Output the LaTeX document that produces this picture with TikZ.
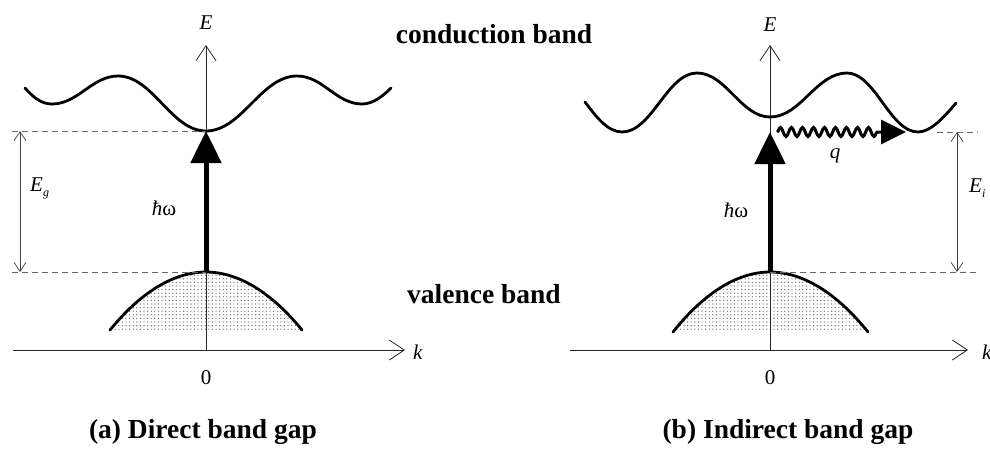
\documentclass[tikz,border=0pt]{standalone}
\usepackage{fontspec}
\setmainfont{Liberation Serif}
\usetikzlibrary{arrows.meta,patterns,decorations.pathmorphing}
\pgfdeclarepatternformonly{stipple}{\pgfqpoint{-1pt}{-1pt}}{\pgfqpoint{1pt}{1pt}}{\pgfqpoint{3.6pt}{3.6pt}}{%
  \pgfpathcircle{\pgfqpoint{0pt}{0pt}}{0.7pt}\pgfusepath{fill}}
\begin{document}
\begin{tikzpicture}[x=1pt,y=-1pt,
  band/.style={line width=2.8pt, line cap=round},
  axisline/.style={line width=0.8pt, black!85, -{Straight Barb[length=15pt,width=20pt]}},
  gapline/.style={line width=0.7pt, black!75, {Straight Barb[length=9pt,width=12pt]}-{Straight Barb[length=9pt,width=12pt]}},
  dashline/.style={line width=0.8pt, black!60, dash pattern=on 6pt off 4pt},
  photon/.style={line width=5pt, -{Triangle[length=32pt,width=30pt]}},
  phonon/.style={line width=3pt, -{Triangle[length=25pt,width=24pt]}, decorate,
     decoration={snake, amplitude=4.5pt, segment length=11pt, post length=24pt}},
  dotfill/.style={pattern=stipple, pattern color=black!55},
  lab/.style={font=\fontsize{21}{21}\selectfont\itshape, inner sep=0pt},
  num/.style={font=\fontsize{21}{21}\selectfont, inner sep=0pt},
  bold/.style={font=\fontsize{27.5}{28}\selectfont\bfseries, inner sep=0pt}
]
\useasboundingbox (0,0) rectangle (990,448);

% ---------------- panel (a) ----------------
\coordinate (aO) at (206,350);
\coordinate (aEtop) at (206,45);
\coordinate (akL) at (13,350);
\coordinate (akR) at (405,350);
\coordinate (aCmin) at (206,131);
\coordinate (aVtop) at (206,272);
\coordinate (aDT) at (12,131);
\coordinate (aDB) at (12,272);
\coordinate (aGT) at (20,131);
\coordinate (aGB) at (20,272);

% valence band
\fill[dotfill] (110,330) parabola bend (aVtop) (302,330) -- cycle;
\draw[axisline] (akL) -- (akR);
\draw[axisline] (aO) -- (aEtop);
\draw[band] (110,330) parabola bend (aVtop) (302,330);

% conduction band
\draw[band] (25,88) .. controls (33,97) and (41,104) .. (52,104)
  .. controls (78,104) and (92,76) .. (118,76)
  .. controls (153,76) and (171,131) .. (aCmin)
  .. controls (242,131) and (261,76) .. (297,76)
  .. controls (323,76) and (336,104) .. (362,104)
  .. controls (373,104) and (383,96) .. (391,88);

\draw[dashline] (aDT) -- (aCmin);
\draw[dashline] (aDB) -- (aVtop);
\draw[gapline] (aGT) -- (aGB);
\draw[photon] (aVtop) -- (aCmin);

\node[lab] (aE) at (206,23) {E};
\node[lab, anchor=west] (ak) at (413,352) {k};
\node[num] (a0) at (206,378) {0};
\node[lab] (ahw) at (164,208) {ħ\upshape ω};
\node[lab, anchor=west] (aEg) at (30,188) {E\raisebox{-5pt}{\fontsize{12}{12}\selectfont g}};
\node[bold] (acap) at (203,432) {(a) Direct band gap};

% ---------------- labels between ----------------
\node[bold] (cb) at (494,34) {conduction band};
\node[bold] (vb) at (484,294) {valence band};

% ---------------- panel (b) ----------------
\coordinate (bO) at (770,350);
\coordinate (bEtop) at (770,45);
\coordinate (bkL) at (570,350);
\coordinate (bkR) at (968,350);
\coordinate (bCmin) at (770,117);
\coordinate (bTip) at (770,132);
\coordinate (bVtop) at (770,272);
\coordinate (bXmin) at (918,132);
\coordinate (bDT1) at (937,132);
\coordinate (bDT2) at (978,132);
\coordinate (bDB) at (978,272);
\coordinate (bGT) at (957,132);
\coordinate (bGB) at (957,272);
\coordinate (bQs) at (777,132);
\coordinate (bQe) at (906,132);

\fill[dotfill] (673,332) parabola bend (bVtop) (868,332) -- cycle;
\draw[axisline] (bkL) -- (bkR);
\draw[axisline] (bO) -- (bEtop);
\draw[band] (673,332) parabola bend (bVtop) (868,332);

\draw[band] (585,102) .. controls (595,115) and (607,132) .. (622,132)
  .. controls (652,132) and (667,73) .. (697,73)
  .. controls (726,73) and (741,117) .. (bCmin)
  .. controls (801,117) and (816,73) .. (847,73)
  .. controls (875,73) and (890,132) .. (bXmin)
  .. controls (931,132) and (945,116) .. (956,103);

\draw[dashline] (bDT1) -- (bDT2);
\draw[dashline] (bVtop) -- (bDB);
\draw[gapline] (bGT) -- (bGB);
\draw[photon] (bVtop) -- (bTip);
\draw[phonon] (bQs) -- (bQe);

\node[lab] (bE) at (770,25) {E};
\node[lab, anchor=west] (bk) at (982,352) {k};
\node[num] (b0) at (770,378) {0};
\node[lab] (bhw) at (736,210) {ħ\upshape ω};
\node[lab] (bq) at (835,156) {q};
\node[lab, anchor=west] (bEi) at (969,188) {E\raisebox{-5pt}{\fontsize{12}{12}\selectfont i}};
\node[bold] (bcap) at (788,432) {(b) Indirect band gap};
\end{tikzpicture}
\end{document}
